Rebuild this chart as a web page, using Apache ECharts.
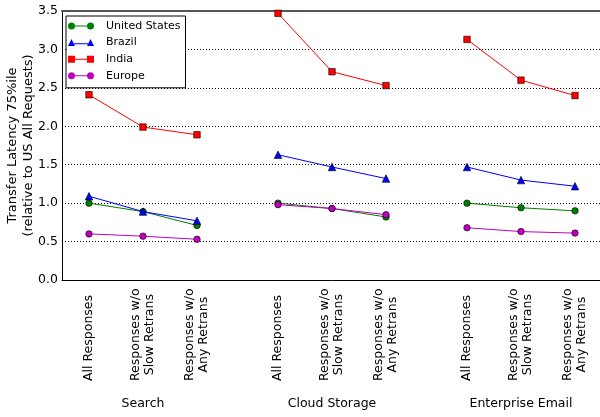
<!DOCTYPE html>
<html>
<head>
<meta charset="utf-8">
<script src="https://cdn.jsdelivr.net/npm/echarts@6/dist/echarts.min.js"></script>
<style>
  html, body { margin: 0; padding: 0; background: #fff; }
  #chart { width: 600px; height: 417px; }
</style>
</head>
<body>
<div id="chart"></div>
<script>
// Workload groups and the three response subsets shown for each
const groups = ['Search', 'Cloud Storage', 'Enterprise Email'];
const categories = ['All Responses', 'Responses w/o\nSlow Retrans', 'Responses w/o\nAny Retrans'];
const countries = ['United States', 'Brazil', 'India', 'Europe'];
const yAxisTitle = ['Transfer Latency 75%ile', '(relative to US All Requests)'];

// Transfer latency 75th percentile, relative to US all requests
// (one row per group, one value per response subset)
const unitedStates = [[1.00, 0.89, 0.71], [1.00, 0.93, 0.82], [1.00, 0.94, 0.90]];
const brazil       = [[1.09, 0.89, 0.77], [1.63, 1.47, 1.32], [1.47, 1.30, 1.22]];
const india        = [[2.41, 1.99, 1.89], [3.47, 2.71, 2.53], [3.13, 2.60, 2.40]];
const europe       = [[0.60, 0.57, 0.53], [0.98, 0.93, 0.85], [0.68, 0.63, 0.61]];

const seriesValues = [unitedStates, brazil, india, europe];
const colors = ['#008000', '#0000ff', '#ff0000', '#bf00bf'];
const symbols = ['circle', 'triangle', 'rect', 'circle'];

const FONT = 'DejaVu Sans';
const GROUP_STEP = 3.5;           // slot distance between groups
const slotOf = (g, i) => g * GROUP_STEP + i;

// Legend swatches: marker - line - marker
const legendIcons = [
  'path://M0,3.5A3.5,3.5 0 1,1 7,3.5A3.5,3.5 0 1,1 0,3.5ZM6,3L20,3L20,4L6,4ZM19,3.5A3.5,3.5 0 1,1 26,3.5A3.5,3.5 0 1,1 19,3.5Z',
  'path://M0,7L3.5,0L7,7ZM6,4.2L20,4.2L20,5.2L6,5.2ZM19,7L22.5,0L26,7Z',
  'path://M0,0L7,0L7,7L0,7ZM6,3L20,3L20,4L6,4ZM19,0L26,0L26,7L19,7Z',
  'path://M0,3.5A3.5,3.5 0 1,1 7,3.5A3.5,3.5 0 1,1 0,3.5ZM6,3L20,3L20,4L6,4ZM19,3.5A3.5,3.5 0 1,1 26,3.5A3.5,3.5 0 1,1 19,3.5Z'
];

function near(a, b) { return Math.abs(a - b) < 1e-6; }

// centred multi-line text through rich tokens
const centred = lines => lines.map(l => '{c|' + l + '}').join('\n');

function categoryLabel(v) {
  for (let g = 0; g < groups.length; g++) {
    for (let i = 0; i < categories.length; i++) {
      if (near(slotOf(g, i), v)) return centred(categories[i].split('\n'));
    }
  }
  return '';
}

function groupLabel(v) {
  for (let g = 0; g < groups.length; g++) {
    if (near(slotOf(g, 1), v)) return groups[g];
  }
  return '';
}

function buildData(values) {
  const data = [];
  values.forEach((row, g) => {
    row.forEach((v, i) => data.push([slotOf(g, i), v]));
    if (g < values.length - 1) data.push([slotOf(g, 2) + 0.75, null]);
  });
  return data;
}

const xMin = -0.5, xMax = slotOf(groups.length - 1, 2) + 0.5;

const chart = echarts.init(document.getElementById('chart'), null, { renderer: 'canvas' });

chart.setOption({
  animation: false,
  backgroundColor: '#fff',
  textStyle: { fontFamily: FONT },
  grid: { left: 62, top: 11, width: 540, height: 269, outerBoundsMode: 'none' },
  legend: {
    orient: 'vertical',
    left: 66,
    top: 16,
    padding: [3, 5, 5, 2],
    itemGap: 2.6,
    itemWidth: 26,
    itemHeight: 7,
    backgroundColor: '#fff',
    borderColor: '#000',
    borderWidth: 1,
    borderRadius: 0,
    itemStyle: { borderWidth: 0 },
    textStyle: { fontFamily: FONT, fontSize: 11, color: '#000', lineHeight: 14, padding: [0, 0, 0, 7] },
    data: countries.map((name, k) => ({ name, icon: legendIcons[k] })),
    selectedMode: false
  },
  xAxis: [
    {
      type: 'value', min: xMin, max: xMax, interval: 0.5, position: 'bottom',
      axisLine: { show: true, onZero: false, lineStyle: { color: '#000', width: 1 } },
      axisTick: { show: false },
      splitLine: { show: false },
      axisLabel: {
        show: true, rotate: 90, margin: 101, align: 'left', verticalAlign: 'middle',
        showMinLabel: true, showMaxLabel: true,
        formatter: categoryLabel,
        rich: { c: { align: 'center', fontFamily: FONT, fontSize: 12.5, color: '#000', lineHeight: 14 } }
      }
    },
    {
      type: 'value', min: xMin, max: xMax, interval: 0.5, position: 'bottom',
      axisLine: { show: false }, axisTick: { show: false }, splitLine: { show: false },
      axisLabel: {
        show: true, margin: 117, fontFamily: FONT, fontSize: 12.5, color: '#000',
        formatter: groupLabel
      }
    },
    {
      type: 'value', min: xMin, max: xMax, position: 'top',
      axisLine: { show: true, onZero: false, lineStyle: { color: '#555', width: 2 } },
      axisTick: { show: false }, splitLine: { show: false }, axisLabel: { show: false }
    }
  ],
  yAxis: {
    type: 'value', min: 0, max: 3.5, interval: 0.5,
    name: centred(yAxisTitle),
    nameLocation: 'middle', nameRotate: 90, nameGap: 25, nameMoveOverlap: false,
    nameTextStyle: {
      rich: { c: { align: 'center', fontFamily: FONT, fontSize: 13, color: '#000', lineHeight: 16 } }
    },
    axisLine: { show: true, onZero: false, lineStyle: { color: '#000', width: 1 } },
    axisTick: { show: false },
    axisLabel: {
      margin: 4, fontFamily: FONT, fontSize: 12.5, color: '#000',
      formatter: v => v.toFixed(1)
    },
    splitLine: { show: true, lineStyle: { color: '#000', width: 1, type: [1, 2] } }
  },
  series: countries.map((name, k) => ({
    name,
    type: 'line',
    xAxisIndex: 0,
    data: buildData(seriesValues[k]),
    connectNulls: false,
    symbol: symbols[k],
    symbolSize: symbols[k] === 'triangle' ? 7.5 : 6.5,
    showAllSymbol: true,
    lineStyle: { color: colors[k], width: 1 },
    itemStyle: { color: colors[k], borderColor: '#000', borderWidth: 0.6 },
    emphasis: { disabled: true },
    z: 3 + k
  }))
});
</script>
</body>
</html>
